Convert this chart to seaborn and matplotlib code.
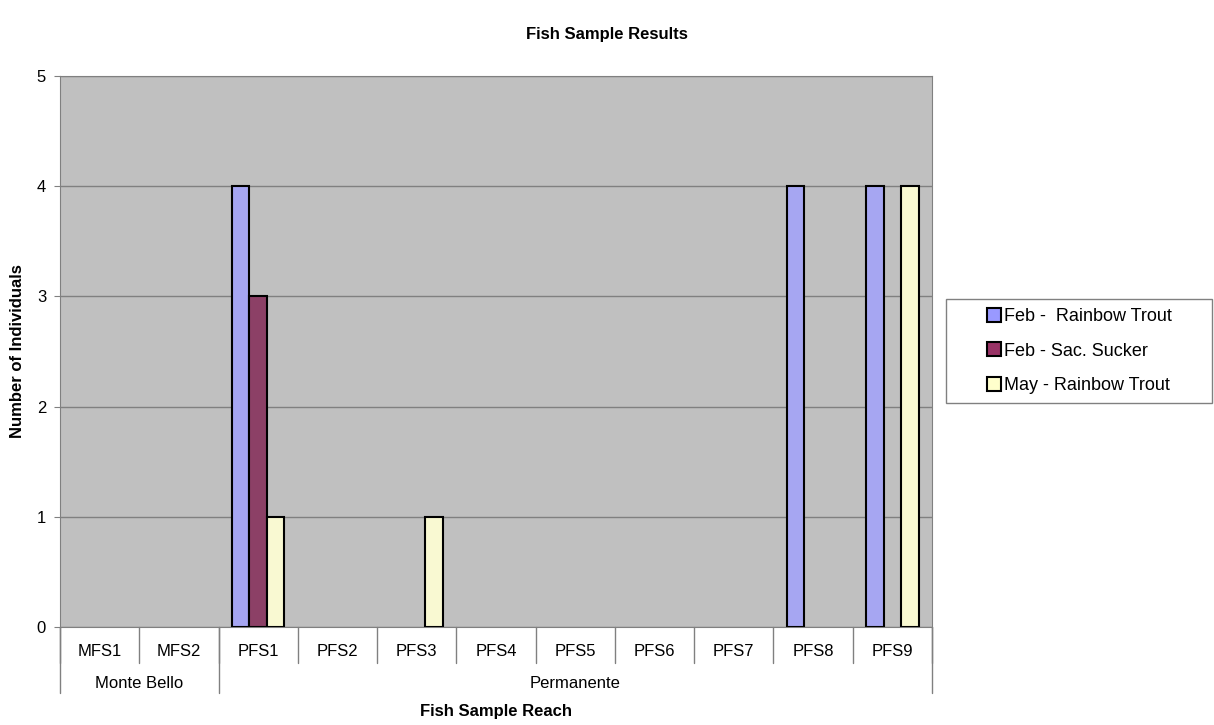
import pandas as pd
import numpy as np
import matplotlib.pyplot as plt
import seaborn as sns
from matplotlib.patches import Patch, Rectangle

# === Data ===
sites = ["MFS1", "MFS2", "PFS1", "PFS2", "PFS3", "PFS4", "PFS5", "PFS6", "PFS7", "PFS8", "PFS9"]
reaches = ["Monte Bello", "Permanente"]
reach_counts = [2, 9]
series = ["Feb -  Rainbow Trout", "Feb - Sac. Sucker", "May - Rainbow Trout"]
feb_trout = [0, 0, 4, 0, 0, 0, 0, 0, 0, 4, 4]
feb_sucker = [0, 0, 3, 0, 0, 0, 0, 0, 0, 0, 0]
may_trout = [0, 0, 1, 0, 1, 0, 0, 0, 0, 0, 4]
colors = ["#9999FF", "#993366", "#FFFFCC"]

# === Long table (zeros are not drawn) ===
rows = []
for name, vals in zip(series, [feb_trout, feb_sucker, may_trout]):
    for s, v in zip(sites, vals):
        rows.append({"site": s, "series": name, "count": v if v > 0 else np.nan})
df = pd.DataFrame(rows)

# === Plot ===
sns.set_style("white")
plt.rcParams["font.family"] = ["Liberation Sans", "DejaVu Sans"]
plt.rcParams["text.color"] = "black"
plt.rcParams["axes.labelcolor"] = "black"
plt.rcParams["xtick.color"] = "black"
plt.rcParams["ytick.color"] = "black"

fig = plt.figure(figsize=(12.14, 7.25), dpi=100)
ax = fig.add_axes([0.0494, 0.1352, 0.7183, 0.760])
ax.set_facecolor("#C0C0C0")

sns.barplot(data=df, x="site", y="count", hue="series", order=sites,
            hue_order=series, palette=colors, width=0.66,
            edgecolor="black", linewidth=1.5, errorbar=None, ax=ax, zorder=3)

ax.set_xlim(-0.5, len(sites) - 0.5)
ax.set_ylim(0, 5)
ax.set_yticks(range(6))
ax.yaxis.grid(True, color="#808080", linewidth=1, zorder=0)
ax.set_axisbelow(True)
for sp in ax.spines.values():
    sp.set_color("#808080")
    sp.set_visible(True)
ax.tick_params(axis="y", length=4, color="#808080", labelsize=12, pad=6, left=True)
ax.tick_params(axis="x", length=0, labelsize=12, pad=12)

ax.set_xlabel("")
ax.set_ylabel("Number of Individuals", fontsize=12, fontweight="bold")
ax.yaxis.set_label_coords(-0.040, 0.5)

# === Multi-level category axis ===
trans = ax.get_xaxis_transform()
for i in range(len(sites) + 1):
    ax.plot([i - 0.5, i - 0.5], [0, -0.065], transform=trans, color="#808080",
            lw=1, clip_on=False)
start = 0
for name, n in zip(reaches, reach_counts):
    ax.plot([start - 0.5, start - 0.5], [0, -0.12], transform=trans, color="#808080",
            lw=1, clip_on=False)
    ax.text(start + (n - 1) / 2, -0.102, name, transform=trans, ha="center",
            va="center", fontsize=12)
    start += n
ax.plot([start - 0.5, start - 0.5], [0, -0.12], transform=trans, color="#808080",
        lw=1, clip_on=False)
ax.text((len(sites) - 1) / 2, -0.154, "Fish Sample Reach", transform=trans,
        ha="center", va="center", fontsize=12, fontweight="bold")

# === Legend ===
ax.get_legend().remove()
fig.patches.append(Rectangle((946 / 1214, 1 - 403 / 725), 266 / 1214, 104 / 725,
                             transform=fig.transFigure, facecolor="white",
                             edgecolor="#808080", linewidth=1))
handles = [Patch(facecolor=c, edgecolor="black", linewidth=1.5) for c in colors]
leg = fig.legend(handles, series, loc="center left",
                 bbox_to_anchor=(987 / 1214, 1 - 351 / 725),
                 frameon=False, fontsize=13, borderpad=0, borderaxespad=0,
                 handlelength=0.8, handleheight=0.8, handletextpad=0.15,
                 labelspacing=0.95)

fig.suptitle("Fish Sample Results", x=0.5, y=1 - 34 / 725, va="center",
             fontsize=12, fontweight="bold")

plt.savefig("out.png", dpi=100)
